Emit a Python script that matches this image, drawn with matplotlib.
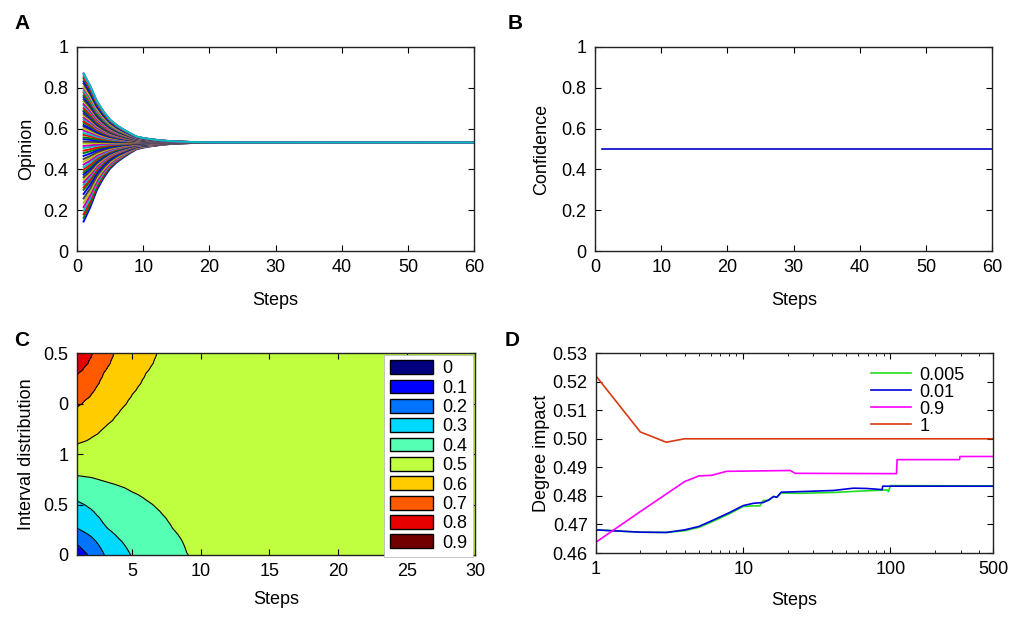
import numpy as np
import matplotlib
matplotlib.use("Agg")
import matplotlib.pyplot as plt
from matplotlib.patches import Patch
from matplotlib.ticker import FixedLocator, NullFormatter

plt.rcParams['font.family'] = ['Liberation Sans', 'DejaVu Sans']
plt.rcParams['font.size'] = 13

# Panel A / C: initial opinions (sorted) and shrink factor of the spread per step
initial_opinions = [0.145, 0.163, 0.180, 0.198, 0.216, 0.237, 0.258, 0.280, 0.300, 0.312,
                    0.326, 0.337, 0.351, 0.362, 0.375, 0.386, 0.399, 0.411, 0.424, 0.438,
                    0.451, 0.466, 0.480, 0.492, 0.505, 0.515, 0.527, 0.536, 0.548, 0.557,
                    0.569, 0.578, 0.590, 0.600, 0.610, 0.617, 0.628, 0.636, 0.646, 0.654,
                    0.665, 0.672, 0.683, 0.690, 0.700, 0.712, 0.720, 0.733, 0.742, 0.754,
                    0.763, 0.776, 0.784, 0.797, 0.805, 0.820, 0.831, 0.845, 0.852, 0.863, 0.870]
consensus = 0.532
steps_a = [1, 2, 3, 4, 5, 6, 7, 8, 9, 10, 11, 12, 13, 14, 15, 16, 17, 18, 19, 20,
           21, 22, 23, 24, 25, 60]
spread = [1.0, 0.82, 0.60, 0.45, 0.33, 0.25, 0.19, 0.135, 0.085, 0.065, 0.05, 0.038,
          0.028, 0.02, 0.015, 0.011, 0.008, 0.006, 0.004, 0.003, 0.002, 0.0015, 0.001,
          0.0007, 0.0005, 0.0]

# Panel B
steps_b = [1, 60]
confidence = [0.5, 0.5]

# Panel C
level_values = [0, 0.1, 0.2, 0.3, 0.4, 0.5, 0.6, 0.7, 0.8, 0.9]
level_colors = ['#00007f', '#0000ff', '#0073ff', '#00d9ff', '#55ffb4',
                '#c0ff40', '#ffcc00', '#ff5a00', '#e60000', '#720000']
c_yticklabels = ['0', '0.5', '1', '0', '0.5']

# Panel D
d_labels = ['0.005', '0.01', '0.9', '1']
d_colors = ['#22dd22', '#0000dd', '#ff00ff', '#d83a12']
x_005 = [1, 2, 3, 4, 5, 6.3, 8.1, 10, 11.7, 13, 13.7, 14.9, 16.1, 16.9, 18.1, 24.4, 41, 70, 95, 97, 100, 500]
y_005 = [0.4681, 0.4673, 0.4672, 0.4678, 0.4690, 0.4712, 0.4738, 0.4763, 0.4765, 0.4765, 0.4784,
         0.4784, 0.4798, 0.4795, 0.4810, 0.4809, 0.4812, 0.4818, 0.4821, 0.4815, 0.4836, 0.4835]
x_01 = [1, 2, 3, 4, 5, 6.3, 8.1, 10, 11.7, 13.7, 14.9, 16.1, 16.9, 18.1, 24.4, 41, 56, 69, 88, 88.5, 500]
y_01 = [0.4681, 0.4673, 0.4672, 0.4681, 0.4693, 0.4716, 0.4742, 0.4766, 0.4774, 0.4777, 0.4786,
        0.4798, 0.4795, 0.4813, 0.4815, 0.4819, 0.4827, 0.4826, 0.4822, 0.4834, 0.4834]
x_09 = [1, 2, 4, 5, 6.1, 7.7, 20.9, 22.5, 110, 111, 295, 297, 500]
y_09 = [0.4638, 0.4745, 0.4850, 0.4870, 0.4872, 0.4886, 0.4889, 0.4879, 0.4878, 0.4927,
        0.4927, 0.4938, 0.4938]
x_1 = [1, 2, 3, 4, 500]
y_1 = [0.5220, 0.5024, 0.4988, 0.5000, 0.5000]

old_matlab = ['#0000ff', '#008000', '#ff0000', '#00bfbf', '#bf00bf', '#bfbf00', '#404040']


def style_axes(ax):
    ax.tick_params(direction='in', top=True, right=True, length=4, width=0.8, labelsize=13, pad=6)
    ax.tick_params(which='minor', direction='in', top=True, right=True, length=2.5, width=0.6)
    for s in ax.spines.values():
        s.set_linewidth(1.0)
        s.set_color('#222222')


fig = plt.figure(figsize=(10.32, 6.17), dpi=100)

ax_a = fig.add_axes([0.0746, 0.593, 0.385, 0.331])
ax_b = fig.add_axes([0.5766, 0.593, 0.385, 0.331])
ax_c = fig.add_axes([0.0746, 0.1005, 0.386, 0.327])
ax_d = fig.add_axes([0.5775, 0.1037, 0.385, 0.324])

# A
spread_arr = np.array(spread)
for i, op in enumerate(initial_opinions):
    ax_a.plot(steps_a, consensus + (op - consensus) * spread_arr,
              color=old_matlab[i % len(old_matlab)], lw=1.4)
ax_a.plot(steps_a, consensus + (initial_opinions[-1] - consensus) * spread_arr, color='#00bfbf', lw=1.4)
ax_a.set_xlim(0, 60)
ax_a.set_ylim(0, 1)
ax_a.set_xticks([0, 10, 20, 30, 40, 50, 60])
ax_a.set_yticks([0, 0.2, 0.4, 0.6, 0.8, 1])
ax_a.set_yticklabels(['0', '0.2', '0.4', '0.6', '0.8', '1'])
ax_a.set_xlabel('Steps', labelpad=11)
ax_a.set_ylabel('Opinion', labelpad=6)
style_axes(ax_a)

# B
ax_b.plot(steps_b, confidence, color='#0000cc', lw=1.2)
ax_b.set_xlim(0, 60)
ax_b.set_ylim(0, 1)
ax_b.set_xticks([0, 10, 20, 30, 40, 50, 60])
ax_b.set_yticks([0, 0.2, 0.4, 0.6, 0.8, 1])
ax_b.set_yticklabels(['0', '0.2', '0.4', '0.6', '0.8', '1'])
ax_b.set_xlabel('Steps', labelpad=11)
ax_b.set_ylabel('Confidence', labelpad=8)
style_axes(ax_b)

# C
frac = np.linspace(0, 1, len(initial_opinions))
Z = consensus + (np.array(initial_opinions)[:, None] - consensus) * spread_arr[None, :]
levels = level_values + [1.0]
ax_c.contourf(steps_a, frac, Z, levels=levels, colors=level_colors)
ax_c.contour(steps_a, frac, Z, levels=level_values[1:], colors='k', linewidths=0.8)
ax_c.set_xlim(1, 30)
ax_c.set_ylim(0, 1)
ax_c.set_xticks([5, 10, 15, 20, 25, 30])
ax_c.set_yticks([0, 0.25, 0.5, 0.75, 1])
ax_c.set_yticklabels(c_yticklabels)
ax_c.set_xlabel('Steps', labelpad=8)
ax_c.set_ylabel('Interval distribution', labelpad=6)
style_axes(ax_c)
handles = [Patch(facecolor=c, edgecolor='k', lw=1.0) for c in level_colors]
leg = ax_c.legend(handles, [str(v) for v in level_values], loc='upper right',
                  bbox_to_anchor=(0.993, 0.992), borderaxespad=0, handlelength=2.4,
                  handleheight=0.8, labelspacing=0.12, handletextpad=0.5,
                  borderpad=0.3, fontsize=13, fancybox=False, framealpha=1)
leg.get_frame().set_edgecolor('#bbbbbb')
leg.get_frame().set_linewidth(0.6)

# D
for xs, ys, lab, col in zip([x_005, x_01, x_09, x_1], [y_005, y_01, y_09, y_1], d_labels, d_colors):
    ax_d.plot(xs, ys, color=col, lw=1.2, label=lab)
ax_d.set_xscale('log')
ax_d.set_xlim(1, 500)
ax_d.set_ylim(0.46, 0.53)
ax_d.set_xticks([1, 10, 100, 500])
ax_d.set_xticklabels(['1', '10', '100', '500'])
ax_d.xaxis.set_minor_locator(FixedLocator([2, 3, 4, 5, 6, 7, 8, 9, 20, 30, 40, 50, 60, 70, 80, 90,
                                           200, 300, 400]))
ax_d.xaxis.set_minor_formatter(NullFormatter())
yt = [0.46, 0.47, 0.48, 0.49, 0.50, 0.51, 0.52, 0.53]
ax_d.set_yticks(yt)
ax_d.set_yticklabels(['%.2f' % v for v in yt])
ax_d.set_xlabel('Steps', labelpad=10)
ax_d.set_ylabel('Degree impact', labelpad=2)
style_axes(ax_d)
ax_d.legend(loc='upper left', bbox_to_anchor=(0.66, 0.995), frameon=False, fontsize=13,
            handlelength=2.2, labelspacing=0.0, handletextpad=0.5, borderpad=0.2)

for lab, x, y in [('A', 14, 14), ('B', 508, 14), ('C', 14, 331), ('D', 505, 331)]:
    fig.text(x / 1032, 1 - y / 617, lab, fontsize=15, fontweight='bold', va='top', ha='left')

fig.savefig('out.png', dpi=100)
